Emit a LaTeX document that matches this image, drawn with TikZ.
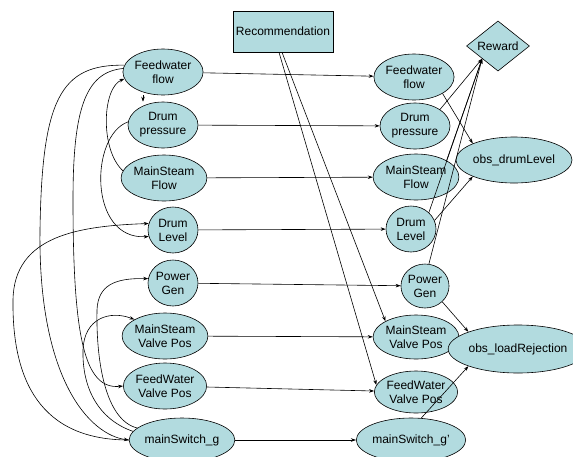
\documentclass[tikz,border=0pt]{standalone}
\usepackage{fontspec}
\setmainfont{Liberation Sans}
\usepackage{tikz}
\usetikzlibrary{shapes.geometric,arrows.meta,positioning}

\definecolor{nodefill}{RGB}{178,219,223}

\begin{document}
\begin{tikzpicture}[x=1pt, y=-1pt,
        var/.style={draw, ellipse, fill=nodefill, inner sep=0pt, align=center, font=\fontsize{12}{14}\selectfont},
        decision/.style={draw, rectangle, fill=nodefill, inner sep=0pt, font=\fontsize{12}{14}\selectfont},
        utility/.style={draw, diamond, fill=nodefill, inner sep=0pt, font=\fontsize{12}{14}\selectfont},
        line width=0.6pt, >={Stealth[length=5pt,width=3.5pt]}
    ]
        \useasboundingbox (0,0) rectangle (573,456);

        % Slice t
        \node [var, minimum width=70, minimum height=46] (fwf) at (163,72) {Feedwater\\flow};
        \node [var, minimum width=70, minimum height=46] (dp) at (163,125) {Drum\\pressure};
        \node [var, minimum width=68, minimum height=46] (msf) at (164,178) {MainSteam\\Flow};
        \node [var, minimum width=50, minimum height=46] (dl) at (173,230) {Drum\\Level};
        \node [var, minimum width=50, minimum height=46] (pg) at (173,283) {Power\\Gen};
        \node [var, minimum width=68, minimum height=46] (msv) at (165,336) {MainSteam\\Valve Pos};
        \node [var, minimum width=68, minimum height=46] (fwv) at (165,386) {FeedWater\\Valve Pos};
        \node [var, minimum width=96, minimum height=44] (ms) at (182,440) {mainSwitch\_g};

        % Slice t+1
        \node [decision, minimum width=100, minimum height=41] (rec) at (283,31.5) {Recommendation};
        \node [var, minimum width=70, minimum height=46] (fwf2) at (414,77) {Feedwater\\flow};
        \node [var, minimum width=70, minimum height=46] (dp2) at (415,126) {Drum\\pressure};
        \node [var, minimum width=68, minimum height=46] (msf2) at (416,177) {MainSteam\\Flow};
        \node [var, minimum width=50, minimum height=46] (dl2) at (411,229) {Drum\\Level};
        \node [var, minimum width=48, minimum height=44] (pg2) at (425,286) {Power\\Gen};
        \node [var, minimum width=68, minimum height=44] (msv2) at (416,337) {MainSteam\\Valve Pos};
        \node [var, minimum width=68, minimum height=42] (fwv2) at (416,392) {FeedWater\\Valve Pos};
        \node [var, minimum width=96, minimum height=44] (ms2) at (411,440) {mainSwitch\_g'};

        % Observations and reward
        \node [utility, minimum width=63, minimum height=50] (reward) at (498,46) {Reward};
        \node [var, minimum width=98, minimum height=46] (obsdl) at (514,160) {obs\_drumLevel};
        \node [var, minimum width=110, minimum height=48] (obslr) at (518,349) {obs\_loadRejection};

        % Within slice t
        \draw [->] ([xshift=-20pt]fwf.south) -- ([xshift=-20pt]dp.north);
        \draw [->] (msf.170) .. controls (100,150) and (102,88) .. (fwf.190);
        \draw [->] (dp.175) .. controls (90,135) and (88,240) .. (dl.195);
        \draw [->] (ms.west) .. controls (40,440) and (12,380) .. (13,300)
            .. controls (14,235) and (80,226) .. (dl.165);
        \draw [->] (fwf.170) .. controls (60,64) and (42,100) .. (40,230)
            .. controls (38,380) and (90,435) .. (ms.west);
        \draw [->] (fwf.175) .. controls (85,72) and (73,110) .. (73,200)
            .. controls (73,340) and (85,390) .. (fwv.west);
        \draw [->] (ms.170) .. controls (100,420) and (82,390) .. (83,350)
            .. controls (84,318) and (110,310) .. (msv.north west);
        \draw [->] (ms.165) .. controls (105,420) and (96,360) .. (97,310)
            .. controls (98,285) and (115,278) .. (pg.170);

        % Slice t to slice t+1
        \draw [->] (fwf) -- (fwf2);
        \draw [->] (dp) -- (dp2);
        \draw [->] (msf) -- (msf2);
        \draw [->] (dl) -- (dl2);
        \draw [->] (pg) -- (pg2);
        \draw [->] (msv) -- (msv2);
        \draw [->] (fwv) -- (fwv2);
        \draw [->] (ms) -- (ms2);
        \draw [->] ([xshift=-1pt]rec.south) -- (msv2.north west);
        \draw [->] ([xshift=-4pt]rec.south) -- (fwv2.170);

        % Reward and observations
        \draw [->] (dp2.north east) -- (reward.south west);
        \draw [->] (msf2.north east) -- (reward.south west);
        \draw [->] (dl2.north east) -- (reward.south west);
        \draw [->] (pg2.80) -- (reward.south west);
        \draw [->] (fwf2.south east) -- (obsdl.north west);
        \draw [->] (dl2.20) -- (obsdl.south west);
        \draw [->] (pg2.south east) -- (obslr.north west);
        \draw [->] (ms2.65) -- (obslr.south west);
    \end{tikzpicture}
\end{document}
